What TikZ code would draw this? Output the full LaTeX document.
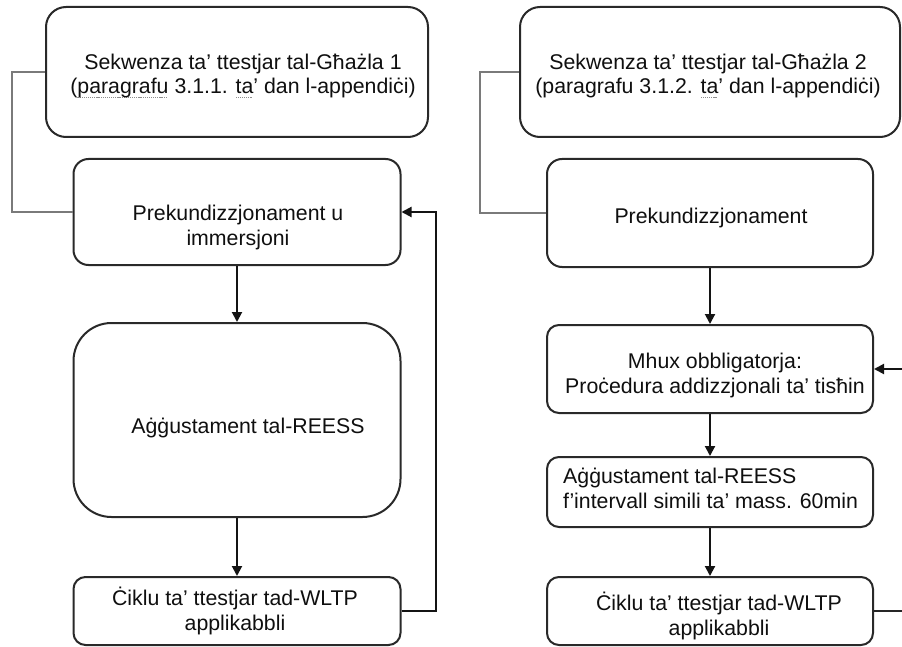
\documentclass[tikz,border=0pt]{standalone}
\usepackage{fontspec}
\setmainfont{Liberation Sans}
\usetikzlibrary{arrows.meta}
% grey dotted underline, like a proofing mark under a word
\newsavebox\proofbox
\newcommand\proofmark[1]{\leavevmode\sbox\proofbox{#1}%
  \rlap{\lower3.8pt\hbox to \wd\proofbox{\color{black!45}\leaders\hbox{\rule{1.2pt}{1.2pt}\kern0.9pt}\hfill}}%
  \usebox\proofbox}
\definecolor{edge}{gray}{0.16}
\definecolor{ink}{gray}{0.06}
\begin{document}
\begin{tikzpicture}[x=1pt,y=-1pt,
  box/.style={draw=edge, line width=2pt, rounded corners=#1, inner sep=0pt, fill=white},
  % multi-line labels are placed by the baseline of their last line
  txt/.style={anchor=base, align=center, inner sep=0pt, text=ink,
    font=\fontsize{21.3}{24.8}\selectfont},
  ltxt/.style={txt, align=left},
  arr/.style={draw=black!92, line width=2pt, -{Triangle[length=10pt,width=10pt]}},
  link/.style={draw=black!52, line width=1.8pt},
  plain/.style={draw=black!85, line width=2pt}]
\useasboundingbox (0,0) rectangle (902,647);

% left chain
\node[box=20pt, minimum width=382pt, minimum height=130pt] (a1) at (237,72) {};
\node[box=15pt, minimum width=327pt, minimum height=106pt] (b1) at (237,212) {};
\node[box=38pt, minimum width=327pt, minimum height=194pt] (c1) at (237,420) {};
\node[box=12pt, minimum width=327pt, minimum height=68pt]  (d1) at (237,611) {};

% right chain
\node[box=20pt, minimum width=380pt, minimum height=130pt] (a2) at (710,72) {};
\node[box=15pt, minimum width=326pt, minimum height=108pt] (b2) at (710,213) {};
\node[box=12pt, minimum width=326pt, minimum height=88pt]  (c2) at (710,369) {};
\node[box=12pt, minimum width=326pt, minimum height=70pt]  (d2) at (710,492) {};
\node[box=12pt, minimum width=326pt, minimum height=68pt]  (e2) at (710,611) {};

% labels
\node[txt] (a1t) at (243,94) {Sekwenza ta’ ttestjar tal-Għażla 1\\(\proofmark{paragrafu} 3.1.1. \proofmark{ta}’ dan l-appendiċi)};
\node[txt] (b1t) at (238,245) {Prekundizzjonament u\\immersjoni};
\node[txt] (c1t) at (248,433) {Aġġustament tal-REESS};
\node[txt] (d1t) at (235,630) {Ċiklu ta’ ttestjar tad-WLTP\\applikabbli};

\node[txt] (a2t) at (708,94) {Sekwenza ta’ ttestjar tal-Għażla 2\\(paragrafu 3.1.2. \proofmark{ta}’ dan l-appendiċi)};
\node[txt] (b2t) at (711,223) {Prekundizzjonament};
\node[txt] (c2t) at (715,393) {Mhux obbligatorja:\\Proċedura addizzjonali ta’ tisħin};
\node[ltxt, anchor=base west] (d2t) at (563,508) {Aġġustament tal-REESS\\f’intervall simili ta’ mass. 60min};
\node[txt] (e2t) at (719,635) {Ċiklu ta’ ttestjar tad-WLTP\\applikabbli};

% connectors, left
\draw[link] (a1.west) -- ++(-33,0) |- (b1.west);
\draw[arr] (b1.south) -- (c1.north);
\draw[arr] (c1.south) -- (d1.north);
\draw[arr] (d1.east) -- ++(34,0) |- (b1.east);

% connectors, right
\draw[link] (a2.west) -- ++(-39,0) |- (b2.west);
\draw[arr] (b2.south) -- (c2.north);
\draw[arr] (c2.south) -- (d2.north);
\draw[arr] (d2.south) -- (e2.north);
\coordinate (retin) at (902,369);
\coordinate (retout) at (902,611);
\draw[arr] (retin) -- (c2.east);
\draw[plain] (e2.east) -- (retout);
\end{tikzpicture}
\end{document}
